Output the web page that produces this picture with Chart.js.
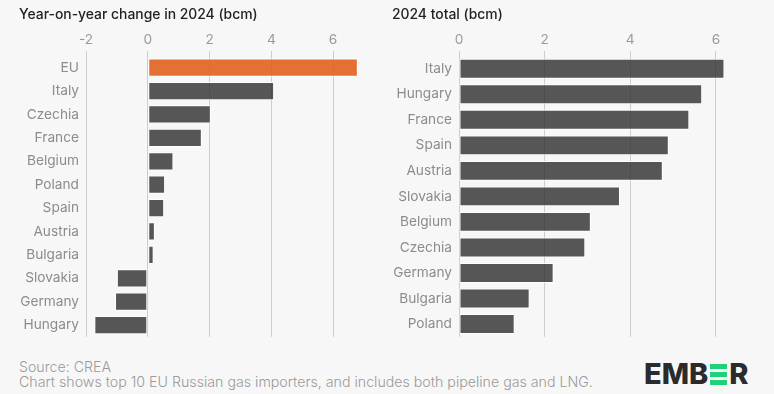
<!DOCTYPE html>
<html lang="en">
  <head>
    <meta charset="UTF-8" />
    <script src="https://cdn.jsdelivr.net/npm/chart.js"></script>
    <title>Russian gas imports</title>
    <style>
      body {
        margin: 0;
        width: 774px;
        height: 394px;
        background: #f7f7f7;
        font-family: Inter, "Noto Sans", sans-serif;
        position: relative;
        overflow: hidden;
      }
      .panel {
        position: absolute;
        top: 0;
        height: 352px;
      }
      #left-panel { left: 0; width: 380px; }
      #right-panel { left: 380px; width: 394px; }
      .title {
        position: absolute;
        top: 6px;
        font-size: 13.9px;
        font-weight: 500;
        color: #222;
        z-index: 2;
      }
      .footer {
        position: absolute;
        left: 19px;
        top: 359px;
        font-size: 14.2px;
        line-height: 15px;
        color: #9a9a9a;
        font-weight: 300;
        z-index: 2;
      }
      .logo {
        position: absolute;
        left: 644px;
        top: 359px;
        font-size: 29px;
        font-weight: 800;
        color: #2b2b2b;
        line-height: 30px;
        display: flex;
        align-items: center;
        z-index: 2;
      }
      .logo .green-e {
        display: inline-block;
        width: 17px;
        height: 21px;
        margin: 0 2px 0 2px;
        background: linear-gradient(#1fd17a 0 5px, transparent 5px 8px, #1fd17a 8px 13px, transparent 13px 16px, #1fd17a 16px 21px);
      }
    </style>
  </head>
  <body>
    <div class="title" style="left: 19px">Year-on-year change in 2024 (bcm)</div>
    <div class="title" style="left: 392px">2024 total (bcm)</div>
    <div class="panel" id="left-panel"><canvas id="chart-left"></canvas></div>
    <div class="panel" id="right-panel"><canvas id="chart-right"></canvas></div>
    <div class="footer">Source: CREA<br />Chart shows top 10 EU Russian gas importers, and includes both pipeline gas and LNG.</div>
    <div class="logo">EMB<span class="green-e"></span>R</div>
    <script>
      // data
      const changeCountries = ['EU', 'Italy', 'Czechia', 'France', 'Belgium', 'Poland', 'Spain', 'Austria', 'Bulgaria', 'Slovakia', 'Germany', 'Hungary'];
      const changeValues = [6.8, 4.09, 2.04, 1.75, 0.83, 0.56, 0.53, 0.23, 0.19, -1.0, -1.06, -1.73];
      const totalCountries = ['Italy', 'Hungary', 'France', 'Spain', 'Austria', 'Slovakia', 'Belgium', 'Czechia', 'Germany', 'Bulgaria', 'Poland'];
      const totalValues = [6.2, 5.68, 5.38, 4.9, 4.76, 3.76, 3.08, 2.95, 2.21, 1.65, 1.3];
      const changeTicks = [-2, 0, 2, 4, 6];
      const totalTicks = [0, 2, 4, 6];

      const grey = 'rgba(50, 50, 50, 0.82)';
      const orange = 'rgba(226, 96, 30, 0.9)';
      const tickFont = { family: 'Inter', size: 13.7 };

      function makeOptions(min, max, tickValues, yWidth, padRight) {
        return {
          indexAxis: 'y',
          responsive: true,
          maintainAspectRatio: false,
          animation: false,
          devicePixelRatio: 1,
          layout: {
            padding: { top: 0, bottom: 0, left: 0, right: padRight },
          },
          plugins: {
            legend: { display: false },
            tooltip: { enabled: false },
          },
          scales: {
            x: {
              position: 'top',
              min: min,
              max: max,
              afterBuildTicks: (axis) => {
                axis.ticks = tickValues.map((v) => ({ value: v }));
              },
              afterFit: (axis) => {
                axis.height = 56;
              },
              grid: {
                color: '#cdcdcd',
                tickLength: 5,
              },
              border: { display: false },
              ticks: {
                color: '#9a9a9a',
                font: tickFont,
                padding: 3,
                maxRotation: 0,
              },
            },
            y: {
              afterFit: (axis) => {
                axis.width = yWidth;
              },
              grid: { display: false, drawTicks: false },
              border: { display: false },
              ticks: {
                color: '#8c8c8c',
                font: tickFont,
                padding: 7,
                autoSkip: false,
              },
            },
          },
        };
      }

      const chartLeft = new Chart(document.getElementById('chart-left'), {
        type: 'bar',
        data: {
          labels: changeCountries,
          datasets: [{
            data: changeValues,
            backgroundColor: changeCountries.map((c) => (c === 'EU' ? orange : grey)),
            borderColor: '#ffffff',
            borderWidth: 1,
            borderSkipped: false,
            categoryPercentage: 1,
            barPercentage: 0.78,
          }],
        },
        options: makeOptions(-2, 7, changeTicks, 86, 16),
      });

      const chartRight = new Chart(document.getElementById('chart-right'), {
        type: 'bar',
        data: {
          labels: totalCountries,
          datasets: [{
            data: totalValues,
            backgroundColor: grey,
            borderColor: '#ffffff',
            borderWidth: 1,
            borderSkipped: false,
            categoryPercentage: 1,
            barPercentage: 0.78,
          }],
        },
        options: makeOptions(0, 6.4, totalTicks, 79, 41),
      });
    </script>
  </body>
</html>
